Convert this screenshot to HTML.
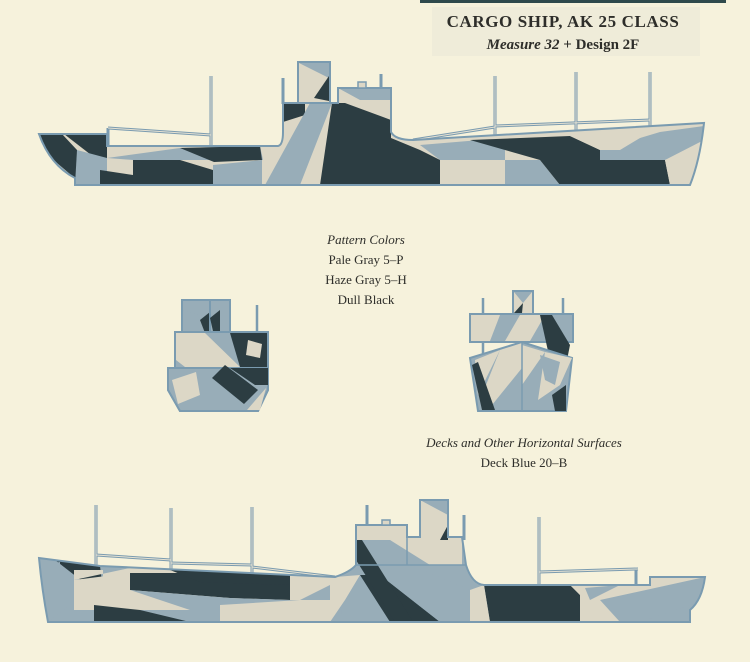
<!DOCTYPE html>
<html><head><meta charset="utf-8"><style>
html,body{margin:0;padding:0;background:#f6f2dc;}
svg{display:block}
text{font-family:"Liberation Serif",serif;fill:#2e2e2a}
</style></head><body>
<svg width="750" height="662" viewBox="0 0 750 662" xmlns="http://www.w3.org/2000/svg">
<defs>
<clipPath id="c1"><path d="M39,134 L107,134 L107,146 L278,146 Q283,145 283,132 L283,103 L338,103 L338,88 L391,88 L391,132 Q395,140 413,140 L704,123 Q700,160 690,185 L75,185 L75,178 Q50,165 39,134Z"/></clipPath>
<clipPath id="c2"><path d="M39,558 L100,566 L335,577 Q350,572 356,565 L356,525 L407,525 L407,537 L420,537 L420,500 L448,500 L448,537 L462,537 L466,565 Q472,584 484,585 L650,585 L650,577 L705,577 Q702,600 690,610 L690,622 L48,622 Q42,590 39,558Z"/></clipPath>
<clipPath id="c3"><path d="M182,300 L210,300 L210,332 L268,332 L268,370 L268,390 L258,411 L180,411 L168,390 L168,368 L175,368 L175,332 L182,332Z"/></clipPath>
<clipPath id="c4"><path d="M513,291 L533,291 L533,314 L573,314 L573,342 L565,342 L573,360 L566,411 L478,411 L470,358 L478,342 L470,342 L470,314 L513,314Z"/></clipPath>
</defs>
<rect x="420" y="0" width="306" height="3" fill="#2f4a4c"/>
<rect x="432" y="7" width="268" height="49" fill="#efecd9"/>
<text x="563" y="27" font-size="17" font-weight="bold" text-anchor="middle" letter-spacing="0.6">CARGO SHIP, AK 25 CLASS</text>
<text x="563" y="49" font-size="15" font-weight="bold" text-anchor="middle"><tspan font-style="italic">Measure 32</tspan> + Design 2F</text>

<!-- top ship masts/booms -->
<g stroke="#7a9bb0" stroke-width="3" fill="none">
<line x1="211" y1="76" x2="211" y2="146"/><line x1="283" y1="78" x2="283" y2="104"/><line x1="381" y1="74" x2="381" y2="90"/>
<line x1="495" y1="76" x2="495" y2="138"/><line x1="576" y1="72" x2="576" y2="133"/><line x1="650" y1="72" x2="650" y2="128"/>
<line x1="108" y1="128" x2="211" y2="135"/><line x1="108" y1="128" x2="108" y2="146"/><line x1="413" y1="140" x2="495" y2="127"/><line x1="495" y1="126" x2="650" y2="120"/>
</g>
<g stroke="#e6e2d2" stroke-width="1" fill="none">
<line x1="211" y1="76" x2="211" y2="146"/><line x1="495" y1="76" x2="495" y2="138"/><line x1="576" y1="72" x2="576" y2="133"/><line x1="650" y1="72" x2="650" y2="128"/>
<line x1="108" y1="128" x2="211" y2="135"/><line x1="413" y1="140" x2="495" y2="127"/><line x1="495" y1="126" x2="650" y2="120"/>
</g>
<rect x="298" y="62" width="32" height="42" fill="#dcd7c6" stroke="#7a9bb0" stroke-width="2"/>
<polygon points="299,63 329,63 329,78" fill="#98adb8"/><polygon points="329,76 329,101 314,98" fill="#2c3d42"/>
<g clip-path="url(#c1)">
<rect x="30" y="60" width="700" height="140" fill="#dcd7c6"/>
<polygon points="283,103 338,103 338,88 391,88 391,118 345,103" fill="#dcd7c6"/>
<polygon points="338,88 391,88 391,100 360,100" fill="#98adb8"/>
<polygon points="283,103 305,103 305,115 283,122" fill="#2c3d42"/>
<polygon points="310,103 332,103 300,185 265,185" fill="#98adb8"/>
<polygon points="332,103 345,103 391,120 391,138 420,150 420,185 320,185" fill="#2c3d42"/>
<polygon points="40,134 62,134 77,150 77,180 44,152" fill="#2c3d42"/>
<polygon points="64,134 107,134 107,158 95,158" fill="#2c3d42"/>
<polygon points="77,150 107,158 107,185 75,185" fill="#98adb8"/>
<polygon points="107,158 180,148 260,146 263,160 133,160" fill="#98adb8"/>
<polygon points="133,160 180,160 213,170 213,185 133,185" fill="#2c3d42"/>
<polygon points="100,170 133,175 133,185 100,185" fill="#2c3d42"/>
<polygon points="180,148 260,146 262,160 214,162" fill="#2c3d42"/>
<polygon points="213,165 262,160 262,185 213,185" fill="#98adb8"/>
<polygon points="420,145 480,140 505,150 505,160 440,160" fill="#98adb8"/>
<polygon points="440,160 505,160 505,185 440,185" fill="#dcd7c6"/>
<polygon points="420,150 440,160 440,185 420,185" fill="#2c3d42"/>
<polygon points="470,140 570,136 600,150 600,160 540,160 505,150" fill="#2c3d42"/>
<polygon points="505,160 540,160 560,185 505,185" fill="#98adb8"/>
<polygon points="540,160 600,160 665,160 670,185 560,185" fill="#2c3d42"/>
<polygon points="570,136 640,130 704,123 704,140 660,160 600,160 600,150" fill="#dcd7c6"/>
<polygon points="600,150 660,132 704,126 704,150 665,160 600,160" fill="#98adb8"/>
<polygon points="665,160 704,140 704,185 670,185" fill="#dcd7c6"/>
<polygon points="600,136 650,132 620,150 600,150" fill="#dcd7c6"/>
</g>
<path d="M39,134 L107,134 L107,146 L278,146 Q283,145 283,132 L283,103 L338,103 L338,88 L391,88 L391,132 Q395,140 413,140 L704,123 Q700,160 690,185 L75,185 L75,178 Q50,165 39,134Z" fill="none" stroke="#7a9bb0" stroke-width="2"/>
<rect x="358" y="82" width="8" height="6" fill="#dcd7c6" stroke="#7a9bb0" stroke-width="1.5"/>

<text x="366" y="244" font-size="13" font-style="italic" text-anchor="middle">Pattern Colors</text>
<text x="366" y="264" font-size="13" text-anchor="middle">Pale Gray 5–P</text>
<text x="366" y="284" font-size="13" text-anchor="middle">Haze Gray 5–H</text>
<text x="366" y="304" font-size="13" text-anchor="middle">Dull Black</text>
<text x="524" y="447" font-size="13" font-style="italic" text-anchor="middle">Decks and Other Horizontal Surfaces</text>
<text x="524" y="467" font-size="13" text-anchor="middle">Deck Blue 20–B</text>

<!-- small left -->
<g stroke="#7a9bb0" stroke-width="2.5"><line x1="183" y1="308" x2="183" y2="368"/><line x1="257" y1="305" x2="257" y2="365"/></g>
<g clip-path="url(#c3)">
<rect x="160" y="290" width="120" height="130" fill="#98adb8"/>
<polygon points="182,300 210,300 210,318 182,310" fill="#98adb8"/>
<polygon points="200,320 210,312 210,333 205,333" fill="#2c3d42"/>
<polygon points="175,332 200,332 230,360 190,360 175,350" fill="#dcd7c6"/>
<polygon points="230,332 268,332 268,400 250,405 250,370 230,360" fill="#2c3d42"/>
<polygon points="245,340 262,345 258,360 243,355" fill="#dcd7c6"/>
<polygon points="210,375 225,360 255,385 240,400" fill="#2c3d42"/>
<polygon points="172,380 195,372 200,395 178,405" fill="#dcd7c6"/>
<polygon points="245,405 265,385 268,411 245,411" fill="#dcd7c6"/>
</g>
<path d="M182,300 L210,300 L210,332 L268,332 L268,390 L258,411 L180,411 L168,390 L168,368 L175,368 L175,332 L182,332Z M175,368 L268,368" fill="none" stroke="#7a9bb0" stroke-width="2"/>
<rect x="210" y="300" width="20" height="32" fill="#98adb8" stroke="#7a9bb0" stroke-width="2"/>
<polygon points="210,318 220,310 220,331 213,331" fill="#2c3d42"/>
<rect x="175" y="332" width="93" height="36" fill="#98adb8" stroke="#7a9bb0" stroke-width="2"/>
<polygon points="176,333 205,333 240,367 185,367 176,360" fill="#dcd7c6"/>
<polygon points="230,333 267,333 267,367 240,367" fill="#2c3d42"/>
<polygon points="248,340 262,344 260,358 246,355" fill="#dcd7c6"/>
<path d="M168,368 L268,368 L268,390 L258,411 L180,411 L168,390Z" fill="#98adb8" stroke="#7a9bb0" stroke-width="2"/>
<polygon points="212,378 225,365 258,390 244,404" fill="#2c3d42"/>
<polygon points="172,380 196,372 200,395 178,404" fill="#dcd7c6"/>
<polygon points="247,410 266,388 260,410" fill="#dcd7c6"/>
<polygon points="230,368 268,368 268,385 255,385" fill="#2c3d42"/>

<!-- small right -->
<g stroke="#7a9bb0" stroke-width="2.5"><line x1="483" y1="298" x2="483" y2="370"/><line x1="563" y1="298" x2="563" y2="370"/></g>
<rect x="513" y="291" width="20" height="23" fill="#dcd7c6" stroke="#7a9bb0" stroke-width="2"/>
<polygon points="514,292 532,292 523,303" fill="#98adb8"/><polygon points="523,303 514,313 522,313" fill="#2c3d42"/>
<rect x="470" y="314" width="103" height="28" fill="#98adb8" stroke="#7a9bb0" stroke-width="2"/>
<polygon points="471,315 500,315 490,341 471,341" fill="#dcd7c6"/>
<polygon points="520,315 545,315 530,341 505,341" fill="#dcd7c6"/>
<polygon points="540,315 552,315 570,345 565,370 550,360" fill="#2c3d42"/>
<path d="M470,358 L522,342 L572,358 L566,411 L478,411Z" fill="#98adb8" stroke="#7a9bb0" stroke-width="2"/>
<polygon points="475,360 500,350 478,395" fill="#dcd7c6"/>
<polygon points="500,350 522,343 522,368 488,410 480,400" fill="#dcd7c6"/>
<polygon points="522,345 545,352 522,385" fill="#dcd7c6"/>
<polygon points="545,352 572,358 560,385 538,400" fill="#dcd7c6"/>
<polygon points="540,355 560,362 555,385 545,380" fill="#98adb8"/>
<polygon points="472,365 478,362 495,410 482,410" fill="#2c3d42"/>
<polygon points="552,395 566,385 566,411 555,411" fill="#2c3d42"/>
<line x1="522" y1="342" x2="522" y2="411" stroke="#7a9bb0" stroke-width="1.5"/>

<!-- bottom ship masts/booms -->
<g stroke="#7a9bb0" stroke-width="3" fill="none">
<line x1="96" y1="505" x2="96" y2="567"/><line x1="171" y1="508" x2="171" y2="570"/><line x1="252" y1="507" x2="252" y2="573"/><line x1="539" y1="517" x2="539" y2="585"/>
<line x1="367" y1="505" x2="367" y2="525"/><line x1="464" y1="515" x2="464" y2="540"/>
<line x1="96" y1="555" x2="171" y2="560"/><line x1="171" y1="563" x2="252" y2="565"/><line x1="252" y1="567" x2="335" y2="577"/><line x1="539" y1="572" x2="638" y2="569"/><line x1="636" y1="569" x2="636" y2="585"/>
</g>
<g stroke="#e6e2d2" stroke-width="1" fill="none">
<line x1="96" y1="505" x2="96" y2="567"/><line x1="171" y1="508" x2="171" y2="570"/><line x1="252" y1="507" x2="252" y2="573"/><line x1="539" y1="517" x2="539" y2="585"/>
<line x1="96" y1="555" x2="171" y2="560"/><line x1="171" y1="563" x2="252" y2="565"/><line x1="252" y1="567" x2="335" y2="577"/><line x1="539" y1="572" x2="638" y2="569"/>
</g>
<g clip-path="url(#c2)">
<rect x="30" y="490" width="700" height="150" fill="#98adb8"/>
<polygon points="356,525 407,525 407,537 420,537 420,500 448,500 448,537 462,537 462,565 420,565 390,540 356,540" fill="#dcd7c6"/>
<polygon points="420,500 448,500 448,515" fill="#98adb8"/>
<polygon points="448,525 448,540 440,540" fill="#2c3d42"/>
<polygon points="420,515 440,540 462,540 462,565 445,565" fill="#dcd7c6"/>
<polygon points="390,540 430,565 407,565 400,560" fill="#98adb8"/>
<polygon points="360,575 380,575 440,622 380,622" fill="#2c3d42"/>
<polygon points="356,565 410,565 470,590 470,622 440,622 380,575 356,575" fill="#98adb8"/>
<polygon points="356,560 360,575 390,622 340,622 345,590" fill="#98adb8"/>
<polygon points="335,577 360,575 345,600 330,622 330,580" fill="#dcd7c6"/>
<polygon points="356,540 362,540 412,620 395,622 356,560" fill="#2c3d42"/>
<polygon points="55,560 100,566 103,590 100,595" fill="#2c3d42"/>
<polygon points="40,565 60,562 60,595 70,605 48,622" fill="#98adb8"/>
<polygon points="74,570 103,570 103,595 160,595 230,600 300,600 330,585 335,577 320,568 290,575 230,568 130,568 74,580" fill="#dcd7c6"/>
<polygon points="130,573 230,573 290,580 290,600 230,598 130,590" fill="#2c3d42"/>
<polygon points="170,570 290,575 290,585 200,582" fill="#2c3d42"/>
<polygon points="74,580 130,573 130,590 190,600 190,610 74,610" fill="#dcd7c6"/>
<polygon points="94,605 140,610 190,622 94,622" fill="#2c3d42"/>
<polygon points="130,590 230,598 290,600 330,600 330,622 190,622 190,610" fill="#98adb8"/>
<polygon points="220,605 300,600 330,600 330,622 220,622" fill="#dcd7c6"/>
<polygon points="484,585 540,585 540,622 490,622" fill="#2c3d42"/>
<polygon points="540,585 570,585 580,595 580,622 540,622" fill="#2c3d42"/>
<polygon points="470,590 484,585 490,622 470,622" fill="#dcd7c6"/>
<polygon points="570,585 650,585 650,577 705,577 705,590 620,622 580,622 580,595" fill="#dcd7c6"/>
<polygon points="600,600 705,577 705,600 640,622 620,622" fill="#98adb8"/>
<polygon points="585,588 620,585 590,600" fill="#98adb8"/>
</g>
<path d="M39,558 L100,566 L335,577 Q350,572 356,565 L356,525 L407,525 L407,537 L420,537 L420,500 L448,500 L448,537 L462,537 L466,565 Q472,584 484,585 L650,585 L650,577 L705,577 Q702,600 690,610 L690,622 L48,622 Q42,590 39,558Z" fill="none" stroke="#7a9bb0" stroke-width="2"/>
<line x1="356" y1="565" x2="466" y2="565" stroke="#7a9bb0" stroke-width="1.5"/>
<line x1="407" y1="537" x2="407" y2="565" stroke="#7a9bb0" stroke-width="1.5"/>
<rect x="382" y="520" width="8" height="5" fill="#dcd7c6" stroke="#7a9bb0" stroke-width="1.5"/>
</svg>
</body></html>
